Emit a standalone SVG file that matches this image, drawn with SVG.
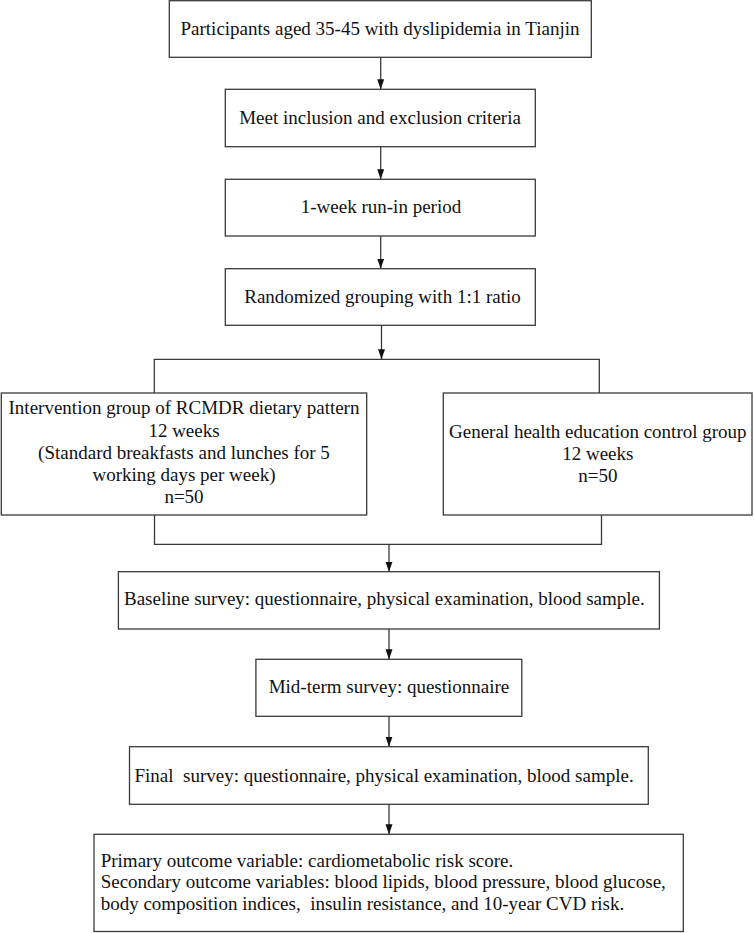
<svg xmlns="http://www.w3.org/2000/svg" width="754" height="933" viewBox="0 0 754 933">
<style>
  .box { fill: #ffffff; stroke: #3a3a3a; stroke-width: 1.3; }
  .t { font-family: "Liberation Serif", "Times New Roman", serif; font-size: 19px; fill: #111111; }
  .c { text-anchor: middle; }
  .conn { fill: none; stroke: #3a3a3a; stroke-width: 1.3; }
</style>
<defs>
  <marker id="arr" markerUnits="userSpaceOnUse" markerWidth="10" markerHeight="8" refX="10" refY="3.5" orient="auto">
    <path d="M0,0 L10,3.5 L0,7 Z" fill="#111111"/>
  </marker>
</defs>
<rect width="754" height="933" fill="#ffffff"/>

<g id="connectors">
  <line class="conn" x1="380.7" y1="57.3" x2="380.7" y2="89.3" marker-end="url(#arr)"/>
  <line class="conn" x1="380.7" y1="146.7" x2="380.7" y2="179.3" marker-end="url(#arr)"/>
  <line class="conn" x1="380.7" y1="236" x2="380.7" y2="268.7" marker-end="url(#arr)"/>
  <line class="conn" x1="381.5" y1="325.3" x2="381.5" y2="359.3" marker-end="url(#arr)"/>
  <polyline class="conn" points="154.3,393 154.3,359.3 599.3,359.3 599.3,393"/>
  <polyline class="conn" points="154.5,515 154.5,544.3 601.5,544.3 601.5,515"/>
  <line class="conn" x1="389" y1="544.3" x2="389" y2="571.7" marker-end="url(#arr)"/>
  <line class="conn" x1="389" y1="629" x2="389" y2="659.3" marker-end="url(#arr)"/>
  <line class="conn" x1="389" y1="716.3" x2="389" y2="746.7" marker-end="url(#arr)"/>
  <line class="conn" x1="389" y1="804.3" x2="389" y2="834.3" marker-end="url(#arr)"/>
</g>

<g id="n1">
  <rect class="box" x="169.3" y="0.7" width="422" height="56.6"/>
  <text class="t c" x="380" y="35">Participants aged 35-45 with dyslipidemia in Tianjin</text>
</g>
<g id="n2">
  <rect class="box" x="225.3" y="89.3" width="310" height="57.4"/>
  <text class="t c" x="380" y="124">Meet inclusion and exclusion criteria</text>
</g>
<g id="n3">
  <rect class="box" x="225.3" y="179.3" width="310" height="56.7"/>
  <text class="t c" x="381" y="213.3">1-week run-in period</text>
</g>
<g id="n4">
  <rect class="box" x="225.3" y="268.7" width="310" height="56.6"/>
  <text class="t c" x="382.5" y="302.7">Randomized grouping with 1:1 ratio</text>
</g>
<g id="n5">
  <rect class="box" x="1.3" y="393" width="365.4" height="122"/>
  <text class="t c" x="184" y="414.3">Intervention group of RCMDR dietary pattern</text>
  <text class="t c" x="184" y="436.6">12 weeks</text>
  <text class="t c" x="184" y="458.8">(Standard breakfasts and lunches for 5</text>
  <text class="t c" x="184" y="481">working days per week)</text>
  <text class="t c" x="184" y="503.3">n=50</text>
</g>
<g id="n6">
  <rect class="box" x="443.3" y="393" width="308.7" height="122"/>
  <text class="t c" x="597.8" y="437.7">General health education control group</text>
  <text class="t c" x="597.8" y="459.9">12 weeks</text>
  <text class="t c" x="597.8" y="482.2">n=50</text>
</g>
<g id="n7">
  <rect class="box" x="118.4" y="571.7" width="541" height="57.3"/>
  <text class="t" x="124" y="605">Baseline survey: questionnaire, physical examination, blood sample.</text>
</g>
<g id="n8">
  <rect class="box" x="255.9" y="659.3" width="265.9" height="57"/>
  <text class="t c" x="389" y="693.3">Mid-term survey: questionnaire</text>
</g>
<g id="n9">
  <rect class="box" x="129.5" y="746.7" width="518.8" height="57.6"/>
  <text class="t" x="134.5" y="781.7" xml:space="preserve">Final  survey: questionnaire, physical examination, blood sample.</text>
</g>
<g id="n10">
  <rect class="box" x="94" y="834.3" width="589.3" height="97.2"/>
  <text class="t" x="100.7" y="866.7">Primary outcome variable: cardiometabolic risk score.</text>
  <text class="t" x="100.7" y="888.3">Secondary outcome variables: blood lipids, blood pressure, blood glucose,</text>
  <text class="t" x="100.7" y="910" xml:space="preserve">body composition indices,  insulin resistance, and 10-year CVD risk.</text>
</g>
</svg>
